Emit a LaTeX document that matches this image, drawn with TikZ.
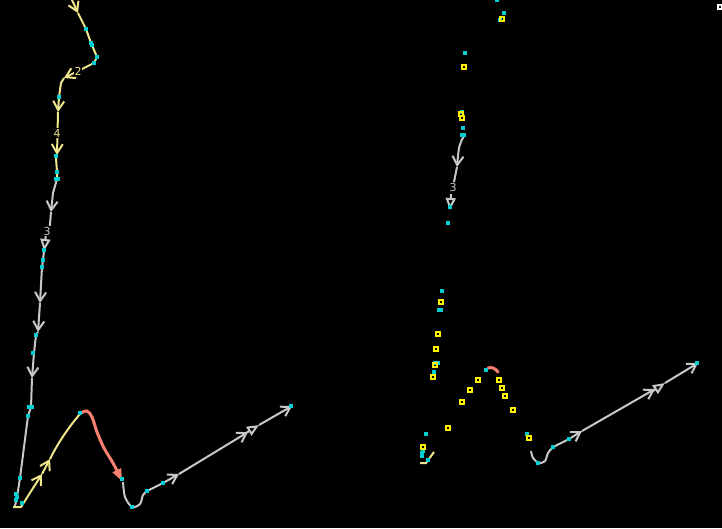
\documentclass[tikz,border=0pt]{standalone}
\usepackage{fontspec}
\setsansfont{DejaVu Sans}
\usepackage{tikz}
\usetikzlibrary{arrows.meta}
\definecolor{trackyellow}{RGB}{240, 230, 140}
\definecolor{trackgray}{RGB}{200, 200, 200}
\definecolor{tracksalmon}{RGB}{250, 128, 114}
\definecolor{pointcyan}{RGB}{0, 206, 209}

\begin{document}
\begin{tikzpicture}[x=1pt, y=-1pt,
        yline/.style={draw=trackyellow, line width=2pt, line join=round},
        gline/.style={draw=trackgray, line width=2pt, line join=round},
        sline/.style={draw=tracksalmon, line width=3pt, line cap=round},
        barb/.style={-{Straight Barb[length=9pt, width=11pt]}},
        tri/.style={-{Triangle[length=12pt, width=10pt, fill=black]}},
        seglabel/.style={fill=black, inner sep=0.6pt, font=\sffamily\fontsize{11}{11}\selectfont},
        dot/.style={fill=pointcyan},
        sq/.style={draw=yellow, line width=1.1pt}
    ]
        \fill[black] (0,0) rectangle (722,528);
        \useasboundingbox (0,0) rectangle (722,528);

        % left track
        \draw[yline, barb] (72,0) -- (78,13);
        \draw[yline, barb] (78,13) -- (86,29) -- (91,43) -- (97,57) -- (94,63) -- (64,78);
        \draw[yline, barb] (64,78) -- (61,83) -- (59,97) -- (58,112);
        \draw[yline, barb] (58,112) -- (57,155);
        \draw[yline] (57,155) -- (56,158) -- (57,172) -- (57,179);
        \draw[gline, barb] (57,179) -- (53,193) -- (51,212);
        \draw[gline] (51,212) -- (49,236);
        \draw[gline, tri] (46,234) -- (44,251);
        \draw[gline, barb] (44,251) -- (43,260) -- (42,267) -- (40,303);
        \draw[gline, barb] (40,303) -- (38,332);
        \draw[gline, barb] (38,332) -- (36,335) -- (34,353) -- (32,378);
        \draw[gline] (32,378) -- (31,407) -- (28,416) -- (20,478) -- (17,497) -- (15,506);
        \draw[yline, barb] (13,507) -- (21,507) -- (42,474);
        \draw[yline, barb] (42,474) -- (50,459);
        \draw[yline] (50,459) .. controls (58,443) and (68,428) .. (80,414);
        \draw[sline, -{Triangle[length=12pt, width=9pt, fill=black]}] plot[smooth] coordinates {(81,413) (87,411) (92,417) (97,432) (104,448) (113,463) (122,481)};
        \draw[gline] plot[smooth] coordinates {(123,482) (125,497) (132,507) (140,504) (143,495) (147,491)};
        \draw[gline, barb] (147,491) -- (163,483) -- (179,474);
        \draw[gline, barb] (179,474) -- (248,432);
        \draw[gline, tri] (246,433) -- (259,425);
        \draw[gline, barb] (259,425) -- (292,406);

        % right track
        \draw[gline, barb] (464,136) .. controls (459,145) .. (457,167);
        \draw[gline] (457,167) -- (454,182);
        \draw[gline, tri] (451,194) -- (450,210);
        \draw[yline] (434,452) -- (426,463) -- (420,463);
        \draw[sline] (488,368) .. controls (492,367) and (495,368) .. (498,372);
        \draw[gline] plot[smooth] coordinates {(531,451) (533,458) (539,463) (545,461) (548,453) (553,447)};
        \draw[gline, barb] (553,447) -- (569,439) -- (582,431);
        \draw[gline, barb] (582,431) -- (655,389);
        \draw[gline, tri] (653,391) -- (665,383);
        \draw[gline, barb] (665,383) -- (698,363);

        % labels
        \node[seglabel, text=trackyellow] (lab2) at (78,71) {2};
        \node[seglabel, text=trackyellow] (lab4) at (57,133) {4};
        \node[seglabel, text=trackgray] (lab3a) at (47,231) {3};
        \node[seglabel, text=trackgray] (lab3b) at (453,187) {3};

        % samples
        \foreach \x/\y in {86/29, 91/43, 92/45, 97/57, 94/63, 59/97, 56/156, 57/172, 56/179, 58/179,
                44/250, 43/260, 42/267, 36/335, 33/353, 29/407, 32/407, 28/416, 20/478, 16/494, 17/497,
                16/500, 22/503, 80/413, 122/479, 132/507, 147/491, 163/483, 291/406,
                497/0, 504/13, 500/20, 465/53, 462/112, 463/128, 462/135, 464/135, 450/207, 448/223,
                442/291, 439/310, 441/310, 435/363, 438/363, 434/372, 486/370, 426/434, 527/434,
                423/451, 422/453, 422/456, 428/460, 538/463, 553/447, 569/439, 697/363}
            \fill[dot] (\x,\y) +(-1.7,-1.7) rectangle +(1.7,1.7);
        \foreach \x/\y in {502/19, 464/67, 461/114, 462/118, 441/302, 438/334, 436/349, 435/365, 433/377,
                478/380, 499/380, 470/390, 502/388, 462/402, 505/396, 513/410, 448/428, 529/438, 423/447}
            \draw[sq] (\x,\y) +(-2,-2) rectangle +(2,2);
        \draw[white, line width=1.1pt] (720,7) +(-2,-2) rectangle +(2,2);
    \end{tikzpicture}
\end{document}
